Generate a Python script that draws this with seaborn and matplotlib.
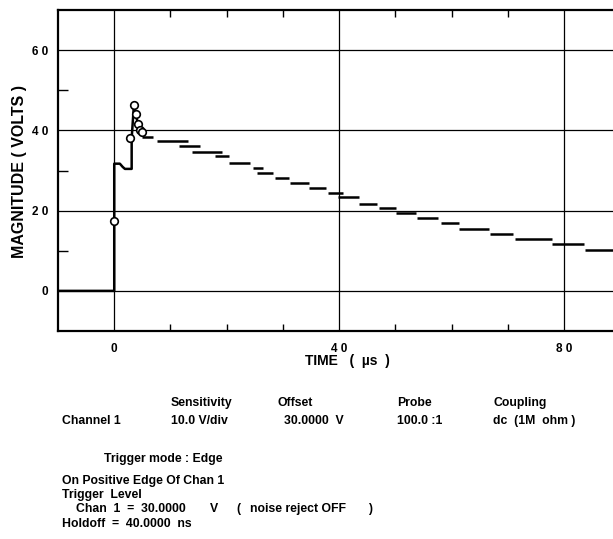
import matplotlib
matplotlib.use("Agg")
import matplotlib.pyplot as plt
import seaborn as sns
import pandas as pd

# ~~~~~~~~ Data ~~~~~~~~
# leading edge of the pulse (time in us, volts)
edge_time = [-10, 0, 0, 1.0, 1.5, 1.9, 3.1, 3.1, 3.5, 3.8, 4.2, 4.6, 5.0]
edge_volts = [0, 0, 31.7, 31.7, 30.9, 30.4, 30.4, 38.0, 46.3, 44.0, 41.8, 40.3, 39.5]

# circled sample points
mark_time = [0, 2.85, 3.55, 3.8, 4.2, 4.6, 4.9]
mark_volts = [17.3, 38.2, 46.4, 44.0, 41.6, 40.2, 39.6]

# decay staircase, one flat dash per step
step_start = [4.9, 7.6, 11.6, 13.8, 18.0, 20.4, 24.7, 25.4, 28.6, 31.2, 34.7, 38.0,
              39.8, 43.5, 47.1, 50.1, 53.8, 58.1, 61.3, 66.9, 71.2, 77.9, 83.7]
step_end = [6.9, 13.2, 15.2, 19.1, 20.4, 24.2, 26.4, 28.2, 31.1, 34.7, 37.6, 40.7,
            43.5, 46.8, 50.1, 53.6, 57.6, 61.3, 66.7, 70.9, 77.8, 83.6, 88.7]
step_volts = [38.3, 37.3, 36.0, 34.5, 33.6, 31.9, 30.6, 29.4, 28.2, 26.9, 25.7, 24.3,
              23.3, 21.7, 20.7, 19.3, 18.1, 16.8, 15.5, 14.2, 12.9, 11.8, 10.3]

x_major = [0, 40, 80]
x_labels = ["0", "4 0", "8 0"]
x_minor = [10, 20, 30, 50, 60, 70]
y_major = [0, 20, 40, 60]
y_labels = ["0", "2 0", "4 0", "6 0"]
y_minor = [10, 30, 50]

# settings block printed under the trace
header_cols = ["Sensitivity", "Offset", "Probe", "Coupling"]
channel_cols = ["Channel 1", "10.0 V/div", "30.0000  V", "100.0 :1", "dc  (1M  ohm )"]
trigger_lines = ["On Positive Edge Of Chan 1",
                 "Trigger  Level",
                 "Holdoff  =  40.0000  ns"]
level_parts = ["Chan  1  =  30.0000", "V", "(", "noise reject OFF", ")"]

# ~~~~~~~~ Plot ~~~~~~~~
sns.set_theme(style="white")
plt.rcParams['font.family'] = ['Liberation Sans', 'DejaVu Sans']
plt.rcParams['font.weight'] = 'bold'
for key in ['text.color', 'axes.labelcolor', 'xtick.color', 'ytick.color']:
    plt.rcParams[key] = 'black'

W, H = 613, 539
fig = plt.figure(figsize=(W / 100, H / 100), dpi=100)
ax = fig.add_axes([58 / W, 1 - 331 / H, 1 - 58 / W, (331 - 10) / H])

edge = pd.DataFrame({'t': edge_time, 'v': edge_volts})
sns.lineplot(data=edge, x='t', y='v', sort=False, estimator=None,
             color='black', lw=1.8, ax=ax)
ax.hlines(step_volts, step_start, step_end, color='black', lw=1.8)
sns.scatterplot(x=mark_time, y=mark_volts, s=30, facecolor='white',
                edgecolor='black', linewidth=1.2, zorder=5, ax=ax)

ax.set_xlim(-10, 88.7)
ax.set_ylim(-10, 70)

ax.set_xticks(x_major, labels=x_labels)
ax.set_xticks(x_minor, minor=True)
ax.set_yticks(y_major, labels=y_labels)
ax.set_yticks(y_minor, minor=True)
ax.grid(True, which='major', color='black', lw=0.9)
ax.tick_params(which='major', length=0, labelsize=8.5, pad=9)
ax.tick_params(axis='y', which='major', pad=7)
ax.tick_params(which='minor', direction='in', color='black', width=1.0)
ax.tick_params(axis='x', which='minor', length=5, top=True, bottom=True)
ax.tick_params(axis='y', which='minor', length=7, left=True, right=False)

for side in ['left', 'top', 'bottom']:
    ax.spines[side].set_color('black')
    ax.spines[side].set_linewidth(1.6)
ax.spines['right'].set_visible(False)

ax.set_xlabel("TIME   (  \u00b5s  )", fontsize=10, fontweight='bold')
ax.set_ylabel("MAGNITUDE ( VOLTS )", fontsize=11.5, fontweight='bold')
ax.xaxis.set_label_coords((347 - 58) / (W - 58), -0.072)
ax.yaxis.set_label_coords(-0.056, 0.497)

# settings text
fs = 8.8
def put(x, y, s):
    fig.text(x / W, 1 - y / H, s, fontsize=fs, fontweight='bold', va='center')

for x, s in zip([171, 277, 397, 493], header_cols):
    put(x, 403, s)
for x, s in zip([62, 171, 284, 397, 493], channel_cols):
    put(x, 421, s)
put(104, 459, "Trigger mode : Edge")
for y, s in zip([481, 495, 524], trigger_lines):
    put(62, y, s)
for x, s in zip([76, 210, 236, 250, 368], level_parts):
    put(x, 509, s)

plt.savefig("out.png", dpi=100)
